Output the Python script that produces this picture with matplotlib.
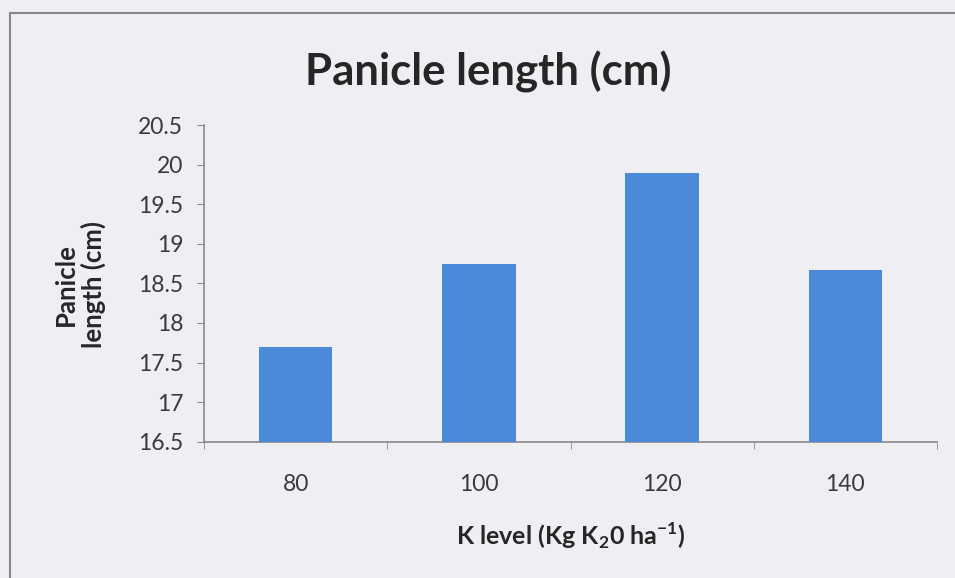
import matplotlib
matplotlib.use("Agg")
import matplotlib.pyplot as plt
from matplotlib.patches import Rectangle
import numpy as np

categories = ["80", "100", "120", "140"]
values = [17.7, 18.75, 19.9, 18.67]
yticks = [16.5, 17, 17.5, 18, 18.5, 19, 19.5, 20, 20.5]

plt.rcParams['font.family'] = ['Lato', 'DejaVu Sans']
plt.rcParams['mathtext.fontset'] = 'custom'
plt.rcParams['mathtext.rm'] = 'Lato'
plt.rcParams['mathtext.bf'] = 'Lato:bold'

bg = '#efeff3'
fig = plt.figure(figsize=(9.55, 5.78), dpi=100, facecolor=bg)
ax = fig.add_axes([204/955, 1-441.7/578, (937-204)/955, (441.7-125)/578])
ax.set_facecolor(bg)

x = np.arange(len(categories))
ax.bar(x, [v - 16.5 for v in values], bottom=16.5, width=0.4, color='#4a8ad8', zorder=3)

ax.set_xlim(-0.5, len(categories) - 0.5)
ax.set_ylim(16.5, 20.5)
ax.set_yticks(yticks)
ax.set_yticklabels([f"{t:g}" for t in yticks], fontsize=16.5, color='#3a3a3a')
ax.set_xticks(x)
ax.set_xticklabels(categories, fontsize=16.5, color='#3a3a3a')
ax.tick_params(axis='x', length=0, pad=23)
ax.set_xticks(np.arange(-0.5, len(categories), 1.0), minor=True)
ax.tick_params(axis='x', which='minor', length=5, color='#888888', direction='out')
ax.tick_params(axis='y', length=5, color='#888888', direction='out', pad=10)

for s in ['top', 'right']:
    ax.spines[s].set_visible(False)
for s in ['left', 'bottom']:
    ax.spines[s].set_color('#888888')
    ax.spines[s].set_linewidth(1.2)

fig.text(488/955, 1-72/578, "Panicle length (cm)", fontsize=31.5, fontweight='bold',
         ha='center', va='center', color='#262626')
fig.text(80/955, 1-285/578, "Panicle\nlength (cm)", fontsize=18.5, fontweight='bold',
         rotation=90, ha='center', va='center', color='#262626', linespacing=1.1)
fig.text(571/955, 1-536/578, r"K level (Kg K$_\mathbf{2}$0 ha$^\mathbf{-1}$)",
         fontsize=18, fontweight='bold', ha='center', va='center', color='#262626')

# outer chart border
fig.patches.append(Rectangle((10/955, -0.05), 1.0, 1-13/578 + 0.05, transform=fig.transFigure,
                             fill=False, edgecolor='#888888', linewidth=1.5))

fig.savefig("out.png", dpi=100, facecolor=bg)
